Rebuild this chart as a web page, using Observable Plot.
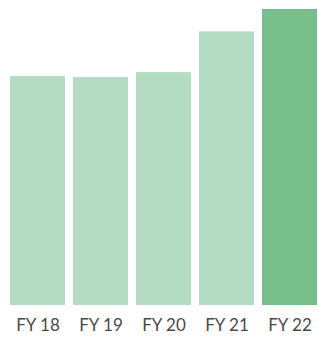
<!DOCTYPE html>
<html><head><meta charset="utf-8">
<script src="https://cdn.jsdelivr.net/npm/d3@7"></script>
<script src="https://cdn.jsdelivr.net/npm/@observablehq/plot@0.6"></script>
<style>body{margin:0;background:#fff;}</style>
</head><body><div id="chart"></div>
<script>
const years = ["FY 18", "FY 19", "FY 20", "FY 21", "FY 22"];
const values = [228.7, 227.7, 232.7, 273.3, 295.7];
const colors = ["#b4dcc3", "#b4dcc3", "#b4dcc3", "#b4dcc3", "#76bf8d"];
const data = years.map((y, i) => ({year: y, value: values[i], color: colors[i]}));
const chart = Plot.plot({
  width: 318, height: 338,
  marginLeft: 9, marginRight: 0, marginTop: 9, marginBottom: 33,
  style: {fontFamily: "Lato, sans-serif", fontSize: "17px", color: "#4a4a4a", background: "#fff"},
  x: {domain: years, paddingInner: 0.134, paddingOuter: 0, label: null, tickSize: 0, tickPadding: 13},
  y: {domain: [0, 295.7], axis: null},
  marks: [
    Plot.barY(data, {x: "year", y: "value", fill: "color"})
  ]
});
document.getElementById("chart").append(chart);
</script></body></html>
